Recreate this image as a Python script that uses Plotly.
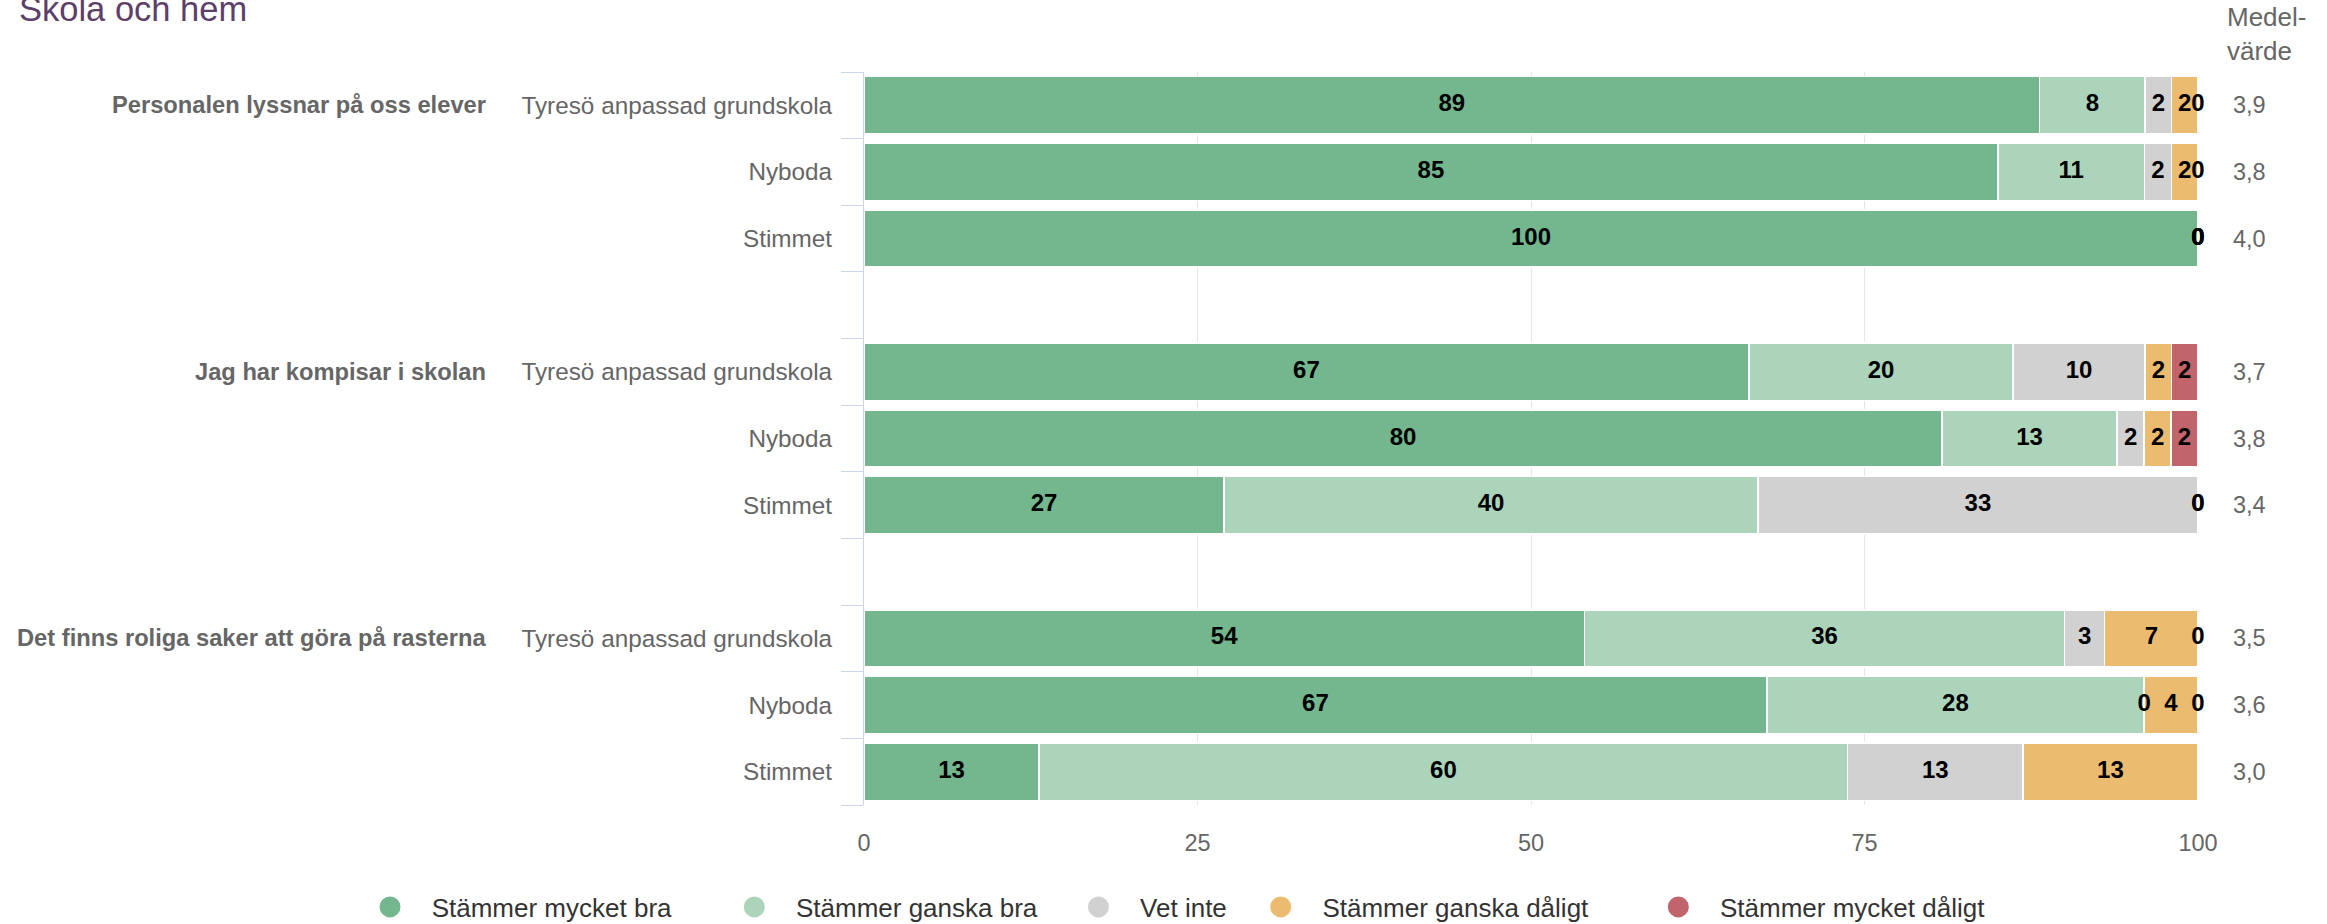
import plotly.graph_objects as go

# ---------------- data ----------------
questions = [
    "Personalen lyssnar på oss elever",
    "Jag har kompisar i skolan",
    "Det finns roliga saker att göra på rasterna",
]
units = ["Tyresö anpassad grundskola", "Nyboda", "Stimmet"]

series_names = [
    "Stämmer mycket bra",
    "Stämmer ganska bra",
    "Vet inte",
    "Stämmer ganska dåligt",
    "Stämmer mycket dåligt",
]
series_colors = ["#74b78e", "#acd4bb", "#d1d1d1", "#ebbb6f", "#c1646c"]

# values in row order: question 1 (Tyresö, Nyboda, Stimmet), question 2 ..., question 3 ...
mycket_bra = [89, 85, 100, 67, 80, 27, 54, 67, 13]
ganska_bra = [8, 11, 0, 20, 13, 40, 36, 28, 60]
vet_inte = [2, 2, 0, 10, 2, 33, 3, 0, 13]
ganska_daligt = [2, 2, 0, 2, 2, 0, 7, 4, 13]
mycket_daligt = [0, 0, 0, 2, 2, 0, 0, 0, 0]
series_values = [mycket_bra, ganska_bra, vet_inte, ganska_daligt, mycket_daligt]

medelvarde = [3.9, 3.8, 4.0, 3.7, 3.8, 3.4, 3.5, 3.6, 3.0]
x_ticks = [0, 25, 50, 75, 100]

# ---------------- layout helpers ----------------
FONT = "Liberation Sans, Arial, Helvetica, sans-serif"
W, H = 2327, 924
PL, PR, PT, PB = 864, 2198, 72, 805  # plot area in pixels
legend_pad = [8, 5, 4, 9, 0]  # trailing spacing of legend entries


def px_x(p):
    return (p - PL) / (PR - PL)


def px_y(p):
    return (PB - p) / (PB - PT)


n_units = len(units)
slot = n_units + 1  # one empty slot between question groups
rows = []
row_units = []
for qi, q in enumerate(questions):
    for ui, u in enumerate(units):
        rows.append(qi * slot + ui)
        row_units.append(u)
n_slots = len(questions) * slot - 1

totals = [sum(s[r] for s in series_values) for r in range(len(rows))]
norm = [[s[r] / totals[r] * 100 for r in range(len(rows))] for s in series_values]

fig = go.Figure()

cum = [0.0] * len(rows)
label_traces = []
for i, name in enumerate(series_names):
    fig.add_trace(go.Bar(
        x=norm[i], y=rows, orientation="h", name=name,
        marker=dict(color=series_colors[i], line=dict(color="white", width=1.5)),
        showlegend=False, hoverinfo="skip",
    ))
    mids = [cum[r] + norm[i][r] / 2 for r in range(len(rows))]
    label_traces.append(go.Scatter(
        x=mids, y=rows, mode="text", text=[str(v) for v in series_values[i]],
        textposition="middle center",
        textfont=dict(family=FONT, size=24, color="#000000", weight="bold"),
        showlegend=False, hoverinfo="skip", cliponaxis=False,
    ))
    cum = [cum[r] + norm[i][r] for r in range(len(rows))]

for t in label_traces:
    fig.add_trace(t)

# legend-only entries with circle symbols
for i, name in enumerate(series_names):
    fig.add_trace(go.Scatter(
        x=[None], y=[None], mode="markers",
        name="\u00a0\u00a0\u00a0" + name + "\u00a0" * legend_pad[i],
        marker=dict(symbol="circle", size=24, color=series_colors[i],
                    line=dict(color=series_colors[i], width=5)),
        showlegend=True,
    ))

annotations = []
# group labels (bold), aligned with first row of each group
for qi, q in enumerate(questions):
    annotations.append(dict(
        text="<b>" + q + "</b>", xref="paper", yref="y",
        x=px_x(488), y=qi * slot, xanchor="right", yanchor="middle",
        showarrow=False, font=dict(family=FONT, size=23.7, color="#666666"),
    ))
# mean values
for r, m in zip(rows, medelvarde):
    annotations.append(dict(
        text=f"{m:.1f}".replace(".", ","), xref="paper", yref="y",
        x=px_x(2231), y=r, xanchor="left", yanchor="middle",
        showarrow=False, font=dict(family=FONT, size=23.5, color="#666666"),
    ))
# column header
annotations.append(dict(
    text="Medel-<br>värde", xref="paper", yref="paper",
    x=px_x(2225), y=px_y(34), xanchor="left", yanchor="middle",
    align="left", showarrow=False, font=dict(family=FONT, size=26, color="#666666"),
))
# title (partly cut at top, as in the reference)
annotations.append(dict(
    text="Skola och hem", xref="paper", yref="paper",
    x=px_x(17), y=px_y(30), xanchor="left", yanchor="bottom",
    showarrow=False, font=dict(family=FONT, size=34.5, color="#5c3f6a"),
))

fig.update_layout(
    width=W, height=H,
    margin=dict(l=PL, r=W - PR, t=PT, b=H - PB, autoexpand=False),
    paper_bgcolor="white", plot_bgcolor="white",
    barmode="stack", bargap=0.14,
    font=dict(family=FONT, color="#666666"),
    annotations=annotations,
    legend=dict(
        orientation="h", traceorder="normal",
        x=px_x(370), xanchor="left", y=px_y(907), yanchor="middle",
        font=dict(family=FONT, size=26, color="#333333"), itemsizing="trace",
    ),
    xaxis=dict(
        range=[0, 100], tickmode="array", tickvals=x_ticks, ticktext=[str(v) for v in x_ticks],
        showgrid=True, gridcolor="#e6e6e6", gridwidth=1, zeroline=False, showline=False,
        tickfont=dict(family=FONT, size=23.5, color="#666666"), ticks="", ticklabelstandoff=21,
        fixedrange=True,
    ),
    yaxis=dict(
        range=[n_slots - 0.5, -0.5], tickmode="array", tickvals=rows, ticktext=row_units,
        showgrid=False, zeroline=False, showline=True, linecolor="#ccd6eb", linewidth=1,
        ticks="", ticklabelstandoff=26,
        tickfont=dict(family=FONT, size=24.3, color="#666666"),
        minor=dict(ticks="outside", ticklen=22, tickcolor="#ccd6eb", tickwidth=1,
                   tickmode="linear", tick0=-0.5, dtick=1, showgrid=False),
        fixedrange=True,
    ),
)

fig.write_html("out.html", config={"displayModeBar": False},
               post_script="document.body.style.margin='0';")
